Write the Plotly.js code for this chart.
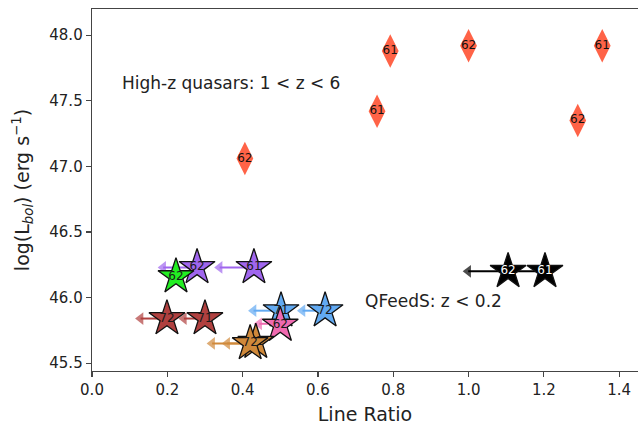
<!DOCTYPE html>
<html>
<head>
<meta charset="utf-8">
<script src="https://cdn.plot.ly/plotly-3.0.1.min.js"></script>
<style>html,body{margin:0;padding:0;background:#fff;}#chart{width:638px;height:425px;}</style>
</head>
<body>
<div id="chart"></div>
<script>
// High-z quasars (diamonds)
const qsoX = [0.406, 0.757, 0.792, 1.000, 1.290, 1.355];
const qsoY = [47.06, 47.42, 47.88, 47.92, 47.35, 47.92];
const qsoLabels = ["62", "61", "61", "62", "62", "61"];

// QFeedS sources (stars): one entry per star
const starGroups = ["black", "black", "purple", "purple", "green", "brown", "brown", "blue", "blue", "pink", "orange", "orange"];
const starX = [1.105, 1.203, 0.279, 0.430, 0.223, 0.199, 0.300, 0.502, 0.619, 0.500, 0.435, 0.420];
const starY = [46.20, 46.20, 46.23, 46.23, 46.16, 45.84, 45.84, 45.90, 45.90, 45.79, 45.66, 45.65];
const starLabels = ["62", "61", "62", "61", "62", "72", "71", "71", "72", "62", "71", "72"];
// upper-limit arrows: x of the arrow tip (null = no arrow)
const arrowTipX = [0.985, 1.10, 0.175, 0.325, null, 0.115, 0.230, 0.415, 0.545, 0.43, 0.345, 0.305];
const arrowY = [46.20, 46.20, 46.23, 46.23, null, 45.84, 45.84, 45.90, 45.90, 45.80, 45.65, 45.65];

const groupColors = {black: "#000000", purple: "#A066EE", green: "#22EE22", brown: "#B0403F", blue: "#62AAF2", pink: "#F06AB0", orange: "#D0893A"};
const textColors = {black: "#ffffff", purple: "#1a1a1a", green: "#1a1a1a", brown: "#1a1a1a", blue: "#1a1a1a", pink: "#1a1a1a", orange: "#1a1a1a"};

const traces = [];
// arrows first (drawn beneath stars)
for (let i = 0; i < starX.length; i++) {
  if (arrowTipX[i] === null) continue;
  const c = groupColors[starGroups[i]];
  traces.push({
    x: [starX[i], arrowTipX[i] + 0.014], y: [arrowY[i], arrowY[i]],
    mode: "lines+markers", type: "scatter", hoverinfo: "skip", showlegend: false,
    line: {color: c, width: 2},
    marker: {symbol: ["circle", "triangle-left"], size: [0, 11], color: c, line: {width: 0}}
  });
}
// stars
for (let i = 0; i < starX.length; i++) {
  const g = starGroups[i];
  traces.push({
    x: [starX[i]], y: [starY[i]], text: [starLabels[i]],
    mode: "markers+text", type: "scatter", showlegend: false, hoverinfo: "skip",
    textposition: "middle center",
    textfont: {family: "DejaVu Sans", size: 12, color: textColors[g]},
    marker: {symbol: "star", size: 27, color: groupColors[g], line: {color: "#111", width: 1.3}}
  });
}
// diamonds
traces.push({
  x: qsoX, y: qsoY, text: qsoLabels,
  mode: "markers+text", type: "scatter", showlegend: false, hoverinfo: "skip",
  textposition: "middle center",
  textfont: {family: "DejaVu Sans", size: 12, color: "#111"},
  marker: {symbol: "diamond-tall", size: 24, color: "#FF6347", line: {width: 0}}
});

const layout = {
  width: 638, height: 425,
  margin: {l: 92, r: 0, t: 9, b: 54},
  paper_bgcolor: "#fff", plot_bgcolor: "#fff",
  font: {family: "DejaVu Sans", color: "#222"},
  xaxis: {
    range: [0, 1.45], tickvals: [0, 0.2, 0.4, 0.6, 0.8, 1.0, 1.2, 1.4],
    ticktext: ["0.0", "0.2", "0.4", "0.6", "0.8", "1.0", "1.2", "1.4"],
    showgrid: false, zeroline: false, showline: true, linecolor: "#444", linewidth: 1.3,
    mirror: true, ticks: "outside", ticklen: 5, tickcolor: "#444", tickwidth: 1.2,
    tickfont: {size: 15, color: "#222"},
    title: {text: "Line Ratio", font: {size: 19, color: "#222"}, standoff: 9}
  },
  yaxis: {
    range: [45.44, 48.2], tickvals: [45.5, 46.0, 46.5, 47.0, 47.5, 48.0],
    ticktext: ["45.5", "46.0", "46.5", "47.0", "47.5", "48.0"],
    showgrid: false, zeroline: false, showline: true, linecolor: "#444", linewidth: 1.3,
    ticks: "outside", ticklen: 5, tickcolor: "#444", tickwidth: 1.2,
    tickfont: {size: 15, color: "#222"},
    title: {text: "log(L<sub><i>bol</i></sub>) (erg s<sup>−1</sup>)", font: {size: 19, color: "#222"}, standoff: 14}
  },
  annotations: [
    {text: "High-z quasars: 1 < z < 6", x: 0.075, y: 47.635, xref: "x", yref: "y", xanchor: "left", yanchor: "middle", showarrow: false, font: {size: 17, color: "#222"}},
    {text: "QFeedS: z < 0.2", x: 0.72, y: 45.97, xref: "x", yref: "y", xanchor: "left", yanchor: "middle", showarrow: false, font: {size: 17, color: "#222"}}
  ]
};

Plotly.newPlot("chart", traces, layout, {displayModeBar: false, staticPlot: true});
</script>
</body>
</html>
